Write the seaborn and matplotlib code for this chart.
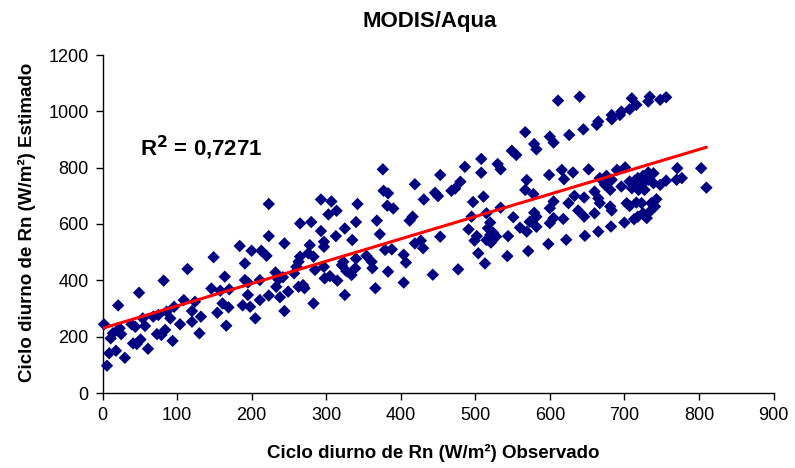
import numpy as np
import pandas as pd
import matplotlib
matplotlib.use("Agg")
import matplotlib.pyplot as plt
import seaborn as sns

obs_a = [2,6,9,11,14,18,21,23,25,30,39,41,44,46,49,51,54,57,61,68,73,75,79,82,84,86,91,94,96,104,
         109,114,120,120,124,130,132,146,149,154,158,161,164,166,169,170,184,188]
est_a = [244,97,141,194,212,150,311,230,209,125,244,176,235,174,356,190,265,238,157,271,209,277,206,399,224,289,265,185,306,244,
         330,440,291,253,324,212,271,371,482,285,363,318,413,239,304,368,522,311]

obs_b = [376,223,293,307,303,314,342,377,383,382,390,265,280,293,325,340,368,372,223,244,
         200,213,220,297,297,313,335,278,276,283,265,263,260,297,285,323,321,340,339,327,
         334,354,361,362,383,379,388,232,236,233,242,257,249,238,223,211,191,191,195,211,
         195,198,205,244,263,269,271,283,298,305,315,325,366]
est_b = [794,671,687,680,634,647,671,718,709,665,655,602,607,575,584,607,612,564,557,531,
         505,505,487,537,519,557,543,525,496,484,484,466,448,448,437,466,454,477,443,433,
         419,487,466,443,431,508,510,428,403,377,411,425,360,340,346,330,460,401,392,401,
         348,306,265,291,377,383,372,318,407,415,399,348,372]

obs_c = [567,579,582,549,555,508,530,534,508,486,453,419,480,473,468,446,450,431,416,412,
         569,567,578,511,497,534,515,495,579,582,551,573,582,520,517,491,524,520,560,569,
         544,502,499,515,521,528,453,419,427,430,404,407,404,443,477,504,513,543,571]
est_c = [926,884,865,860,845,831,813,794,782,803,774,741,750,726,718,711,699,687,626,612,
         756,721,706,697,678,658,638,626,640,626,624,608,590,605,585,581,569,561,587,573,
         557,557,541,543,534,555,555,531,541,514,491,463,392,420,439,496,460,486,504]

obs_d = [611,640,710,716,707,696,694,683,683,665,663,645,626,600,605,
         599,616,619,631,652,690,701,667,676,683,674,681,696,707,714,710,719,660,665,667,646,633,625,605,600,
         681,683,703,707,716,638,646,660,618,605,600,682,700,713,665,647,622,598]
est_d = [1038,1052,1046,1023,1007,999,987,987,972,964,952,936,916,910,889,
         774,792,759,783,794,792,801,763,771,757,739,721,733,751,754,727,721,715,691,674,694,700,674,680,656,
         662,648,674,664,676,648,626,638,618,621,603,591,605,617,573,558,544,529]

obs_e = [732,734,748,756,803,810,771,777,770,756,748,739,732,725,718,732,739,723,727,743,736,723,741,734,725,718,730]
est_e = [1035,1052,1041,1050,798,729,798,763,757,754,739,780,783,771,763,757,745,739,721,688,674,674,662,644,638,626,621]

r2_text = "R$^{\\mathbf{2}}$ = 0,7271"
title = "MODIS/Aqua"
xlabel = "Ciclo diurno de Rn (W/m²) Observado"
ylabel = "Ciclo diurno de Rn (W/m²) Estimado"
xticks = [0, 100, 200, 300, 400, 500, 600, 700, 800, 900]
yticks = [0, 200, 400, 600, 800, 1000, 1200]

df = pd.DataFrame({
    "obs": obs_a + obs_b + obs_c + obs_d + obs_e,
    "est": est_a + est_b + est_c + est_d + est_e,
})

sns.set_style("white")
plt.rcParams["font.family"] = ["Liberation Sans", "DejaVu Sans"]
plt.rcParams["text.color"] = "black"
plt.rcParams["xtick.color"] = "black"
plt.rcParams["ytick.color"] = "black"
plt.rcParams["axes.labelcolor"] = "black"

fig = plt.figure(figsize=(7.95, 4.68), dpi=100)
ax = fig.add_axes([102.5 / 795, 1 - 393 / 468, 671 / 795, 338 / 468])

sns.scatterplot(data=df, x="obs", y="est", marker="D", s=40, color="#000080",
                edgecolor="none", linewidth=0, ax=ax, clip_on=False, zorder=3)
sns.regplot(data=df, x="obs", y="est", scatter=False, ci=None, truncate=True,
            line_kws={"color": "#ff0000", "linewidth": 2.2, "zorder": 4}, ax=ax)

ax.set_xlim(0, 900)
ax.set_ylim(0, 1200)
ax.set_xticks(xticks)
ax.set_yticks(yticks)
ax.tick_params(axis="both", direction="out", length=5, width=1, colors="black",
               labelsize=13, pad=5, bottom=True, left=True)
for s in ["top", "right"]:
    ax.spines[s].set_visible(False)
for s in ["left", "bottom"]:
    ax.spines[s].set_color("black")
    ax.spines[s].set_linewidth(1)
ax.set_xlabel("")
ax.set_ylabel("")

ax.text(50, 870, r2_text, fontsize=16, fontweight="bold", va="center", ha="left", color="black")

fig.text(430 / 795, 1 - 22 / 468, title, fontsize=16, fontweight="bold", ha="center", va="center")
fig.text(433 / 795, 1 - 453 / 468, xlabel, fontsize=13.5, fontweight="bold", ha="center", va="center")
fig.text(27 / 795, 1 - 222 / 468, ylabel, fontsize=13.5, fontweight="bold", ha="center", va="center",
         rotation=90)

fig.savefig("out.png", dpi=100)
